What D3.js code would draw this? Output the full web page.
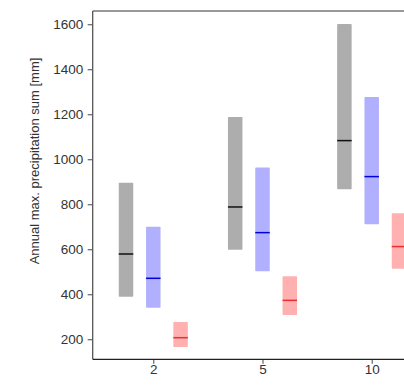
<!DOCTYPE html>
<html>
<head>
<meta charset="utf-8">
<script src="https://cdn.jsdelivr.net/npm/d3@7"></script>
<style>
  body { margin: 0; background: #fff; }
  text { font-family: "Liberation Sans", Arial, sans-serif; fill: #333; }
</style>
</head>
<body>
<div id="chart"></div>
<script>
// return periods (x categories)
const periods = ["2", "5", "10"];

// ranges per series: low / median / high
const grayLow = [389, 598, 867];
const grayMed = [579, 788, 1083];
const grayHigh = [896, 1188, 1601];

const blueLow = [340, 502, 711];
const blueMed = [471, 674, 923];
const blueHigh = [700, 963, 1277];

const redLow = [166, 308, 514];
const redMed = [207, 373, 612];
const redHigh = [277, 480, 760];

const yTicks = [200, 400, 600, 800, 1000, 1200, 1400, 1600];

const W = 404, H = 390;
const mLeft = 92.7, mTop = 11, mBottom = 359.3;

const svg = d3
  .select("#chart")
  .append("svg")
  .attr("width", W)
  .attr("height", H);

const x = d3.scalePoint().domain(periods).range([153.3, 371.7]);
const y = d3.scaleLinear().domain([111, 1659]).range([mBottom, mTop]);

const series = [
  { low: grayLow, med: grayMed, high: grayHigh, fill: "#000", op: 0.32, line: "#111", dx: -27.3 },
  { low: blueLow, med: blueMed, high: blueHigh, fill: "#0000ff", op: 0.31, line: "#0000dd", dx: 0 },
  { low: redLow, med: redMed, high: redHigh, fill: "#ff0000", op: 0.31, line: "#e8302f", dx: 27.3 }
];
const bw = 14.5;

series.forEach((s) => {
  const g = svg.append("g");
  g.selectAll("rect")
    .data(periods)
    .enter()
    .append("rect")
    .attr("x", (d) => x(d) + s.dx - bw / 2)
    .attr("width", bw)
    .attr("y", (d, i) => y(s.high[i]))
    .attr("height", (d, i) => y(s.low[i]) - y(s.high[i]))
    .attr("rx", 0.8)
    .attr("fill", s.fill)
    .attr("fill-opacity", s.op);
  g.selectAll("line")
    .data(periods)
    .enter()
    .append("line")
    .attr("x1", (d) => x(d) + s.dx - bw / 2)
    .attr("x2", (d) => x(d) + s.dx + bw / 2)
    .attr("y1", (d, i) => y(s.med[i]))
    .attr("y2", (d, i) => y(s.med[i]))
    .attr("stroke", s.line)
    .attr("stroke-width", 1.5);
});

// axes
const yAxis = svg.append("g")
  .attr("transform", "translate(" + mLeft + ",0)")
  .call(d3.axisLeft(y).tickValues(yTicks).tickFormat(d3.format("d")).tickSize(5).tickPadding(4.5));
yAxis.select(".domain").remove();
yAxis.selectAll("text").style("font-size", "13.5px").attr("fill", "#333");
yAxis.selectAll(".tick line").attr("stroke", "#444");

const xAxis = svg.append("g")
  .attr("transform", "translate(0," + mBottom + ")")
  .call(d3.axisBottom(x).tickSize(4.5).tickPadding(1));
xAxis.select(".domain").remove();
xAxis.selectAll("text").style("font-size", "13.5px").attr("fill", "#333");
xAxis.selectAll(".tick line").attr("stroke", "#444");

// spines
svg.append("line")
  .attr("x1", mLeft).attr("x2", W + 10)
  .attr("y1", mTop).attr("y2", mTop)
  .attr("stroke", "#777").attr("stroke-width", 1.3);
svg.append("line")
  .attr("x1", mLeft).attr("x2", mLeft)
  .attr("y1", mTop).attr("y2", mBottom)
  .attr("stroke", "#555").attr("stroke-width", 1.3);
svg.append("line")
  .attr("x1", mLeft).attr("x2", W + 10)
  .attr("y1", mBottom).attr("y2", mBottom)
  .attr("stroke", "#222").attr("stroke-width", 1.3);

svg.append("text")
  .attr("transform", "translate(39,161) rotate(-90)")
  .attr("text-anchor", "middle")
  .style("font-size", "13px")
  .text("Annual max. precipitation sum [mm]");
</script>
</body>
</html>
